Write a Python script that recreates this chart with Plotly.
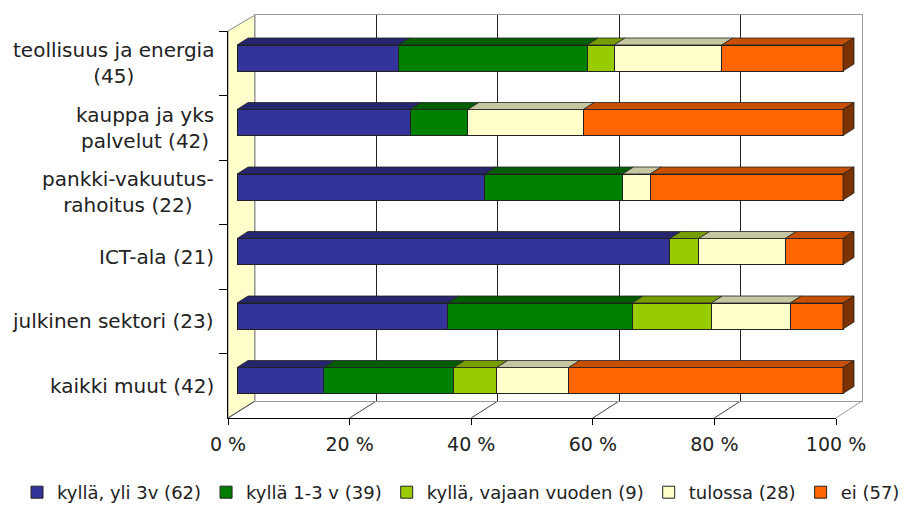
import plotly.graph_objects as go

# ---------------- data ----------------
categories = [
    "teollisuus ja energia<br>(45)",
    "kauppa ja yks<br>palvelut (42)",
    "pankki-vakuutus-<br>rahoitus (22)",
    "ICT-ala (21)",
    "julkinen sektori (23)",
    "kaikki muut (42)",
]
series_names = [
    "kyllä, yli 3v (62)",
    "kyllä 1-3 v (39)",
    "kyllä, vajaan vuoden (9)",
    "tulossa (28)",
    "ei (57)",
]
yli_3v = [12, 12, 9, 15, 8, 6]
v_1_3 = [14, 4, 5, 0, 7, 9]
vajaan_vuoden = [2, 0, 0, 1, 3, 3]
tulossa = [8, 8, 1, 3, 3, 5]
ei = [9, 18, 7, 2, 2, 19]
series_values = [yli_3v, v_1_3, vajaan_vuoden, tulossa, ei]
tick_values = [0, 20, 40, 60, 80, 100]
tick_labels = ["0 %", "20 %", "40 %", "60 %", "80 %", "100 %"]

# ---------------- styling ----------------
front_colors = ["#333399", "#008000", "#99CC00", "#FFFFCC", "#FF6600"]
top_colors = ["#26266f", "#005e00", "#779e00", "#c6c6a2", "#c75000"]
side_color = "#7a3300"
edge = "#222222"
FONT = "DejaVu Sans"
TXT = "#222222"

# the page body has an 8 px margin, so the figure starts at (8, 8)
OFF = 8
W, H = 918 - OFF, 506 - OFF


def px(x):  # window pixel -> paper fraction
    return (x - OFF) / W


def py(y):
    return 1 - (y - OFF) / H


L, R, T, B = 220, 865, 10, 420  # bar subplot area (window pixels)

# geometry of the 3-D box (window pixels)
FX0, FX1, FY0, FY1 = 228, 836, 31, 418   # front plane
BX0, BX1, BY0, BY1 = 255, 862, 15, 401   # back wall
BAR0, BAR100 = 237, 843                  # bar front faces 0..100 %
ROW0, ROWSTEP = 58, 64.5                 # bar centre rows
BARH = 26
DEPTH_X, DEPTH_Y = 11, 7

unit = (BAR100 - BAR0) / 100.0
x2_range = [(L - BAR0) / unit, 100 + (R - BAR100) / unit]
y2_range = [(B - ROW0) / ROWSTEP, (T - ROW0) / ROWSTEP]
bw = BARH / ROWSTEP
ddx = DEPTH_X / unit
ddy = DEPTH_Y / ROWSTEP

rows = list(range(len(categories)))  # row index of each category

fig = go.Figure()

# invisible helper so the back-wall subplot is drawn
fig.add_trace(go.Scatter(
    x=[0], y=[0], mode="markers", marker=dict(opacity=0),
    xaxis="x", yaxis="y", hoverinfo="skip", showlegend=False,
))

# bars (front faces)
for name, vals, col in zip(series_names, series_values, front_colors):
    fig.add_trace(go.Bar(
        y=rows, x=vals, name=name, orientation="h",
        marker=dict(color=col, line=dict(color=edge, width=1)),
        width=bw, xaxis="x2", yaxis="y2", hoverinfo="skip",
    ))

# 3-D top faces and right side faces, derived from the data
totals = [sum(s[i] for s in series_values) for i in rows]
cum = [0.0] * len(categories)
for k, (vals, tcol) in enumerate(zip(series_values, top_colors)):
    xs, ys = [], []
    for i, v in enumerate(vals):
        x0 = cum[i] / totals[i] * 100
        x1 = (cum[i] + v) / totals[i] * 100
        cum[i] += v
        if v == 0:
            continue
        yt = i - bw / 2
        xs += [x0, x1, x1 + ddx, x0 + ddx, x0, None]
        ys += [yt, yt, yt - ddy, yt - ddy, yt, None]
    fig.add_trace(go.Scatter(
        x=xs, y=ys, mode="lines", fill="toself", fillcolor=tcol,
        line=dict(color=edge, width=0.8), xaxis="x2", yaxis="y2",
        hoverinfo="skip", showlegend=False,
    ))

sx, sy = [], []
for i in rows:
    yt, yb = i - bw / 2, i + bw / 2
    sx += [100, 100 + ddx, 100 + ddx, 100, 100, None]
    sy += [yt, yt - ddy, yb - ddy, yb, yt, None]
fig.add_trace(go.Scatter(
    x=sx, y=sy, mode="lines", fill="toself", fillcolor=side_color,
    line=dict(color=edge, width=0.8), xaxis="x2", yaxis="y2",
    hoverinfo="skip", showlegend=False,
))

# invisible helper so the front-plane category axis knows its categories
fig.add_trace(go.Scatter(
    x=[0] * len(categories), y=categories, mode="markers",
    marker=dict(opacity=0), xaxis="x3", yaxis="y3",
    hoverinfo="skip", showlegend=False,
))

# ---------------- decorations (walls, floor) ----------------
shapes = []
shapes.append(dict(
    type="path", xref="paper", yref="paper", layer="below",
    path=(f"M{px(FX0)},{py(FY0)} L{px(BX0)},{py(BY0)} "
          f"L{px(BX0)},{py(BY1)} L{px(FX0)},{py(FY1)} Z"),
    fillcolor="#FFFFCC", line=dict(color="#8a8a8a", width=1),
))
for k in range(6):
    fx = FX0 + k * (FX1 - FX0) / 5
    bx = BX0 + k * (BX1 - BX0) / 5
    shapes.append(dict(
        type="line", xref="paper", yref="paper", layer="below",
        x0=px(fx), y0=py(FY1), x1=px(bx), y1=py(BY1),
        line=dict(color="#444444" if k < 5 else "#9a9a9a", width=1),
    ))

annotations = []
for c in categories:
    annotations.append(dict(
        text=c, xref="paper", x=px(216), xanchor="right", align="center",
        yref="y3", y=c, yanchor="middle", showarrow=False,
        font=dict(family=FONT, size=20, color=TXT),
    ))

fig.update_layout(
    width=W, height=H,
    margin=dict(l=0, r=0, t=0, b=0, pad=0, autoexpand=False),
    paper_bgcolor="white", plot_bgcolor="rgba(0,0,0,0)",
    barmode="stack", barnorm="percent",
    shapes=shapes, annotations=annotations,
    showlegend=True,
    legend=dict(
        orientation="h", x=px(461), xanchor="center", y=py(474), yanchor="top",
        font=dict(family=FONT, size=18, color=TXT), traceorder="normal",
        itemwidth=30, tracegroupgap=0, bgcolor="rgba(0,0,0,0)",
    ),
    # back wall with gridlines
    xaxis=dict(domain=[px(BX0), px(BX1)], range=[0, 100], tickvals=tick_values,
               showgrid=True, gridcolor="#222222", gridwidth=1,
               showticklabels=False, ticks="", zeroline=False,
               showline=True, mirror=True, linecolor="#9a9a9a", linewidth=1,
               anchor="y", fixedrange=True),
    yaxis=dict(domain=[py(BY1), py(BY0)], range=[0, 1], showgrid=False,
               showticklabels=False, ticks="", zeroline=False,
               showline=True, mirror=True, linecolor="#9a9a9a", linewidth=1,
               anchor="x", fixedrange=True),
    # bars
    xaxis2=dict(domain=[px(L), px(R)], range=x2_range, visible=False,
                anchor="y2", fixedrange=True),
    yaxis2=dict(domain=[py(B), py(T)], range=y2_range, visible=False,
                anchor="x2", fixedrange=True),
    # front plane axes
    xaxis3=dict(domain=[px(FX0), px(FX1)], range=[0, 100], anchor="y3",
                tickvals=tick_values, ticktext=tick_labels,
                showgrid=False, zeroline=False,
                showline=True, linecolor="black", linewidth=1,
                ticks="outside", ticklen=6, tickcolor="black", tickwidth=1,
                tickfont=dict(family=FONT, size=19, color=TXT),
                ticklabelstandoff=3, fixedrange=True),
    yaxis3=dict(domain=[py(FY1), py(FY0)], range=[len(categories) - 0.5, -0.5],
                anchor="x3", type="category", categoryorder="array",
                categoryarray=categories, tickson="boundaries",
                showgrid=False, zeroline=False, showticklabels=False,
                showline=True, linecolor="black", linewidth=1,
                ticks="outside", ticklen=8, tickcolor="black", tickwidth=1,
                fixedrange=True),
)

fig.write_html("out.html")
